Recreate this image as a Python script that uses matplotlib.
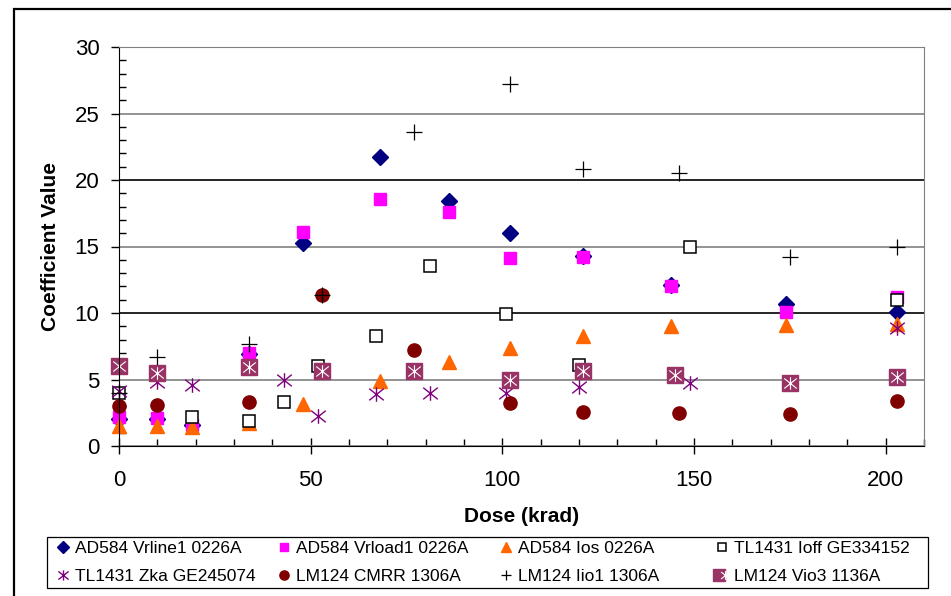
import matplotlib
matplotlib.use("Agg")
import matplotlib.pyplot as plt
from matplotlib.path import Path
from matplotlib.patches import Rectangle
from matplotlib.legend_handler import HandlerTuple

plt.rcParams['font.family'] = ['Liberation Sans', 'DejaVu Sans']

"""Data read off the reference (dose in krad, coefficient value)"""
dose_vrline = [0, 10, 19, 34, 48, 68, 86, 102, 121, 144, 174, 203]
vrline = [2.0, 2.0, 1.6, 6.9, 15.3, 21.7, 18.4, 16.0, 14.3, 12.1, 10.7, 10.1]

dose_vrload = [0, 10, 19, 34, 48, 68, 86, 102, 121, 144, 174, 203]
vrload = [2.2, 2.1, 1.6, 7.0, 16.1, 18.6, 17.6, 14.1, 14.2, 12.0, 10.1, 11.2]

dose_ios = [0, 10, 19, 34, 48, 68, 86, 102, 121, 144, 174, 203]
ios = [1.5, 1.5, 1.4, 1.7, 3.15, 4.9, 6.3, 7.4, 8.3, 9.0, 9.1, 9.2]

dose_ioff = [0, 19, 34, 43, 52, 67, 81, 101, 120, 149, 203]
ioff = [4.0, 2.2, 1.9, 3.3, 6.0, 8.3, 13.5, 9.9, 6.1, 15.0, 11.0]

dose_zka = [0, 10, 19, 43, 52, 67, 81, 101, 120, 149, 203]
zka = [4.1, 4.8, 4.6, 5.0, 2.25, 3.9, 4.0, 4.0, 4.4, 4.7, 8.9]

dose_cmrr = [0, 10, 34, 53, 77, 102, 121, 146, 175, 203]
cmrr = [3.0, 3.1, 3.3, 11.35, 7.2, 3.2, 2.55, 2.5, 2.4, 3.4]

dose_iio = [0, 10, 34, 53, 77, 102, 121, 146, 175, 203]
iio = [4.0, 6.7, 7.7, 11.35, 23.6, 27.2, 20.8, 20.5, 14.2, 15.0]

dose_vio = [0, 10, 34, 53, 77, 102, 121, 145, 175, 203]
vio = [6.0, 5.5, 5.95, 5.65, 5.65, 5.0, 5.65, 5.35, 4.75, 5.2]

labels = ["AD584 Vrline1 0226A", "AD584 Vrload1 0226A", "AD584 Ios 0226A", "TL1431 Ioff GE334152",
          "TL1431 Zka GE245074", "LM124 CMRR 1306A", "LM124 Iio1 1306A", "LM124 Vio3 1136A"]

# Excel style "star" marker: vertical bar + X
star = Path([(0, -1), (0, 1), (-1, -0.8), (1, 0.8), (-1, 0.8), (1, -0.8)],
            [Path.MOVETO, Path.LINETO, Path.MOVETO, Path.LINETO, Path.MOVETO, Path.LINETO])

fig = plt.figure(figsize=(9.51, 5.96), dpi=100)
ax = fig.add_axes([119 / 951, 1 - 446 / 596, (924 - 119) / 951, (446 - 47) / 596])

kw = dict(ls='none', clip_on=False)
h1, = ax.plot(dose_vrline, vrline, marker='D', ms=8.5, color='#000080', mec='#000080', **kw)
h2, = ax.plot(dose_vrload, vrload, marker='s', ms=9, color='#FF00FF', mec='#FF00FF', **kw)
h3, = ax.plot(dose_ios, ios, marker='^', ms=10, color='#FF6600', mec='#FF6600', **kw)
h4, = ax.plot(dose_ioff, ioff, marker='s', ms=9, mfc='white', mec='black', mew=1.1, **kw)
h5, = ax.plot(dose_zka, zka, marker=star, ms=10.5, mfc='none', mec='#800080', mew=1.0, **kw)
h6, = ax.plot(dose_cmrr, cmrr, marker='o', ms=9.5, color='#800000', mec='#800000', **kw)
h7, = ax.plot(dose_iio, iio, marker='+', ms=11, mec='black', mew=0.9, **kw)
h8a, = ax.plot(dose_vio, vio, marker='s', ms=12, color='#993366', mec='#993366', **kw)
h8b, = ax.plot(dose_vio, vio, marker=star, ms=9, mfc='none', mec='white', mew=0.8, **kw)

ax.set_xlim(0, 210)
ax.set_ylim(0, 30)
ax.set_xticks([0, 50, 100, 150, 200])
ax.set_xticks(range(0, 211, 10), minor=True)
ax.set_yticks(range(0, 31, 5))
ax.set_yticks(range(0, 31, 1), minor=True)
ax.tick_params(axis='x', which='major', direction='inout', length=12, width=1, labelsize=16, pad=11)
ax.tick_params(axis='x', which='minor', direction='in', length=5, width=1)
ax.tick_params(axis='y', which='major', direction='out', length=6, width=1, labelsize=16, pad=8)
ax.tick_params(axis='y', which='minor', direction='in', length=5, width=1)

ax.grid(axis='y', which='major', linewidth=1.2)
for val, line in zip(range(0, 31, 5), ax.get_ygridlines()):
    line.set_color('black' if val in (10, 20) else '#808080')
ax.set_axisbelow(True)

ax.spines['left'].set_color('black')
ax.spines['bottom'].set_color('black')
ax.spines['top'].set_color('#808080')
ax.spines['right'].set_color('#808080')

ax.set_xlabel("Dose (krad)", fontsize=15, fontweight='bold', labelpad=12)
ax.set_ylabel("Coefficient Value", fontsize=15, fontweight='bold', labelpad=10.5)

# legend: four columns placed like the Excel legend
handles = [h1, h2, h3, h4, h5, h6, h7, (h8a, h8b)]
col_left = [57, 278, 500, 716]
for c in range(4):
    leg = fig.legend([handles[c], handles[c + 4]], [labels[c], labels[c + 4]],
                     loc='center left', bbox_to_anchor=(col_left[c] / 951, 1 - 562.5 / 596),
                     frameon=False, fontsize=12.5, handlelength=0.7, handletextpad=0.35,
                     borderpad=0, borderaxespad=0, labelspacing=0.7, markerscale=0.7,
                     handler_map={tuple: HandlerTuple(ndivide=None)})
fig.patches.append(Rectangle((47 / 951, 1 - 588 / 596), (928 - 47) / 951, 51 / 596,
                             transform=fig.transFigure, fill=False, edgecolor='black', linewidth=0.9))

# outer chart border
fig.patches.append(Rectangle((14 / 951, -0.02), 1.0, 1 - 9 / 596 + 0.02,
                             transform=fig.transFigure, fill=False, edgecolor='black', linewidth=1.6))

fig.savefig("out.png", dpi=100)
